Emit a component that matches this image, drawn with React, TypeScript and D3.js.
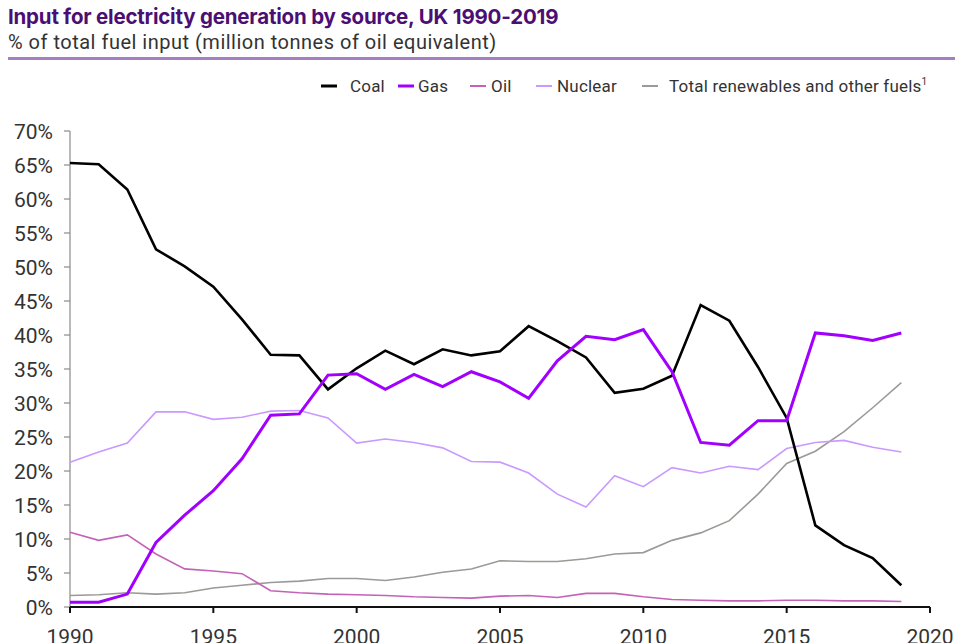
import React from "react";
import * as d3 from "d3";

const years = d3.range(1990, 2020);

const coal = [65.3, 65.1, 61.4, 52.6, 50.1, 47.1, 42.3, 37.1, 37.0, 32.0, 35.1, 37.7, 35.7, 37.9, 37.0,
  37.6, 41.3, 39.1, 36.7, 31.5, 32.1, 34.0, 44.4, 42.1, 35.3, 27.8, 12.0, 9.1, 7.2, 3.2];
const gas = [0.7, 0.7, 1.9, 9.5, 13.5, 17.1, 21.8, 28.2, 28.4, 34.1, 34.3, 32.0, 34.2, 32.4, 34.6,
  33.1, 30.7, 36.2, 39.8, 39.3, 40.8, 34.6, 24.2, 23.8, 27.4, 27.4, 40.3, 39.9, 39.2, 40.3];
const oil = [11.0, 9.8, 10.6, 7.8, 5.6, 5.3, 4.9, 2.4, 2.1, 1.9, 1.8, 1.7, 1.5, 1.4, 1.3,
  1.6, 1.7, 1.4, 2.0, 2.0, 1.5, 1.1, 1.0, 0.9, 0.9, 1.0, 1.0, 0.9, 0.9, 0.8];
const nuclear = [21.3, 22.8, 24.1, 28.7, 28.7, 27.6, 27.9, 28.8, 28.9, 27.8, 24.1, 24.7, 24.2, 23.4, 21.4,
  21.3, 19.7, 16.6, 14.7, 19.3, 17.7, 20.5, 19.7, 20.7, 20.2, 23.3, 24.2, 24.5, 23.5, 22.8];
const renewables = [1.7, 1.8, 2.1, 1.9, 2.1, 2.8, 3.2, 3.6, 3.8, 4.2, 4.2, 3.9, 4.4, 5.1, 5.6,
  6.8, 6.7, 6.7, 7.1, 7.8, 8.0, 9.8, 10.9, 12.7, 16.6, 21.1, 22.9, 25.8, 29.3, 33.0];

const seriesNames = ["Coal", "Gas", "Oil", "Nuclear", "Total renewables and other fuels"];
const seriesColors = ["#000000", "#a100ff", "#c462b8", "#c999ff", "#9a9a96"];
const seriesWidths = [2.6, 3, 1.6, 1.6, 1.6];
const seriesValues = [coal, gas, oil, nuclear, renewables];

const yTicks = d3.range(0, 71, 5);
const xTicks = d3.range(1990, 2021, 5);

// legend placement: line start x, text start x
const legendLineX = [321, 398, 470, 536, 642];
const legendTextX = [350, 418, 491, 557, 669];

export default function App() {
  const W = 955, H = 643;
  const x = d3.scaleLinear().domain([1990, 2020]).range([70, 930]);
  const y = d3.scaleLinear().domain([0, 70]).range([607, 131]);
  const line = d3.line<number>().x((_, i) => x(years[i])).y((v) => y(v));
  const font = "Roboto, 'Open Sans', sans-serif";
  const order = [4, 2, 3, 0, 1];

  return (
    <svg width={W} height={H} style={{ position: "absolute", left: 0, top: 0, display: "block" }} fontFamily={font}>
      <rect width={W} height={H} fill="#fff" />
      <text x={8} y={24} fontSize={20.5} fontWeight={700} fill="#4b0f74" fontFamily="Inter, Roboto, sans-serif" letterSpacing={-0.2}>
        Input for electricity generation by source, UK 1990-2019
      </text>
      <text x={8} y={49} fontSize={20} fill="#333" letterSpacing={0.5}>
        % of total fuel input (million tonnes of oil equivalent)
      </text>
      <line x1={8} x2={955} y1={58.5} y2={58.5} stroke="#a47fc6" strokeWidth={3} />

      {seriesNames.map((n, i) => (
        <g key={n}>
          <line x1={legendLineX[i]} x2={legendLineX[i] + 16} y1={86} y2={86} stroke={seriesColors[i]} strokeWidth={i < 2 ? 3 : 2} />
          <text x={legendTextX[i]} y={86} dy="0.36em" fontSize={17} fill="#333" letterSpacing={0.2}>
            {n}
            {i === 4 ? <tspan fontSize={10} dy={-7}>1</tspan> : null}
          </text>
        </g>
      ))}

      {/* y axis */}
      <line x1={70} x2={70} y1={131} y2={607} stroke="#8a8a8a" strokeWidth={1.2} />
      {yTicks.map((t) => (
        <g key={t}>
          <line x1={64} x2={70} y1={y(t)} y2={y(t)} stroke="#8a8a8a" strokeWidth={1.2} />
          <text x={53} y={y(t)} dy="0.36em" textAnchor="end" fontSize={21} fill="#333">
            {t}%
          </text>
        </g>
      ))}

      {/* series */}
      {order.map((i) => (
        <path key={i} d={line(seriesValues[i]) || ""} fill="none" stroke={seriesColors[i]} strokeWidth={seriesWidths[i]} strokeLinejoin="miter" />
      ))}

      {/* x axis */}
      <line x1={70} x2={930} y1={607} y2={607} stroke="#111" strokeWidth={2.2} />
      {xTicks.map((t) => (
        <g key={t}>
          <line x1={x(t)} x2={x(t)} y1={607} y2={613} stroke="#111" strokeWidth={2} />
          <text x={x(t)} y={644} textAnchor="middle" fontSize={21} fill="#333">
            {t}
          </text>
        </g>
      ))}
    </svg>
  );
}
